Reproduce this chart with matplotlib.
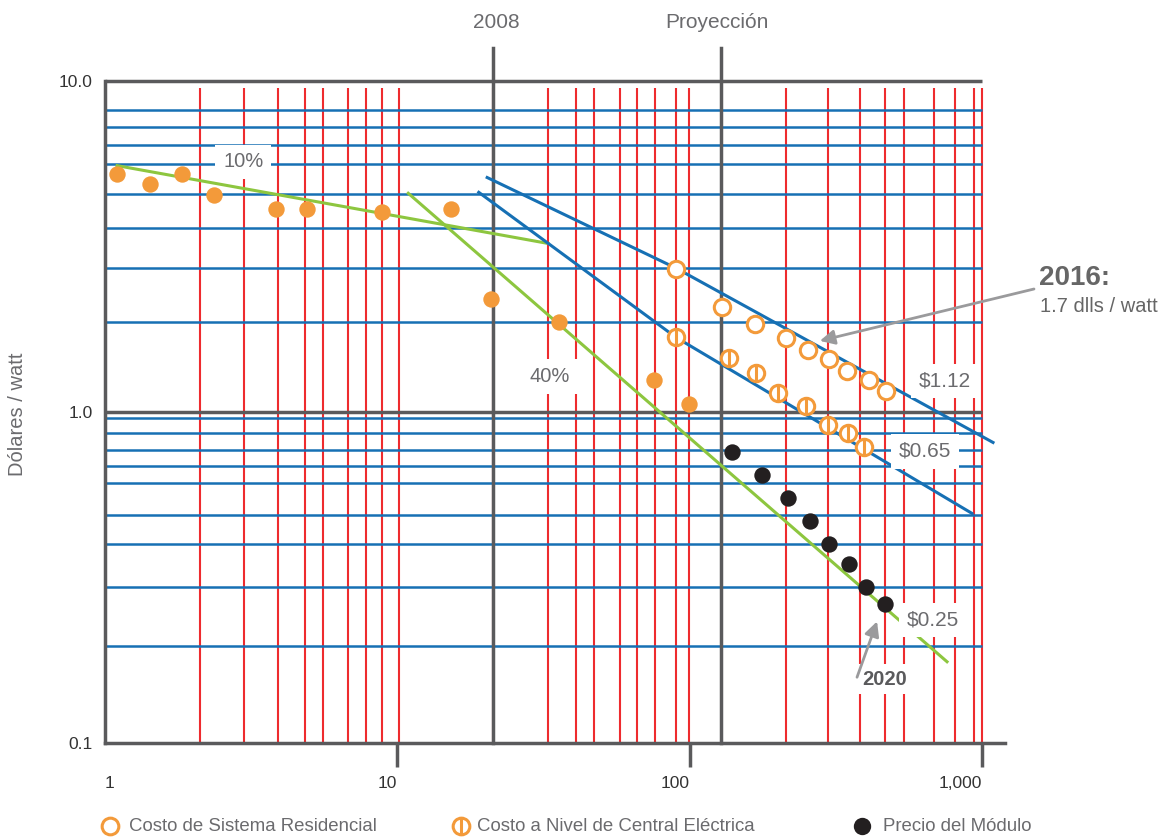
import matplotlib
matplotlib.use('Agg')
import matplotlib.pyplot as plt
from matplotlib.lines import Line2D
from matplotlib.path import Path
from matplotlib.ticker import NullLocator

plt.rcParams['font.family'] = ['Liberation Sans', 'DejaVu Sans']

# datos (x = volumen acumulado, y = dolares / watt)
hist_x = [1.10, 1.43, 1.83, 2.36, 3.85, 4.91, 8.87, 15.3, 20.9, 35.7, 75.5, 99.5]
hist_y = [5.25, 4.87, 5.22, 4.52, 4.10, 4.10, 4.02, 4.10, 2.19, 1.87, 1.25, 1.06]

resid_x = [89.9, 129, 167, 214, 254, 300, 346, 411, 470]
resid_y = [2.70, 2.08, 1.85, 1.67, 1.54, 1.45, 1.33, 1.25, 1.155]

central_x = [89.9, 136, 169, 201, 250, 298, 348, 395]
central_y = [1.68, 1.46, 1.31, 1.14, 1.04, 0.912, 0.862, 0.786]

modulo_x = [140, 177, 217, 258, 300, 351, 401, 466]
modulo_y = [0.759, 0.645, 0.548, 0.47, 0.399, 0.347, 0.297, 0.263]

# lineas de tendencia
verde1_x = [1.10, 32.8]
verde1_y = [5.55, 3.23]
verde2_x = [10.9, 760]
verde2_y = [4.58, 0.176]
azul1_x = [20.3, 89.9, 1092]
azul1_y = [5.11, 2.72, 0.809]
azul2_x = [19.0, 89.9, 925]
azul2_y = [4.61, 1.68, 0.494]

# rejilla tal como esta dibujada en el original
rejilla_y = [8.2, 7.25, 6.4, 5.62, 4.55, 3.6, 2.72, 1.87,
             0.958, 0.862, 0.77, 0.688, 0.61, 0.49, 0.40, 0.297, 0.196]
rejilla_x = [2.11, 2.99, 3.91, 4.83, 5.57, 6.78, 7.82, 8.87, 10.1,
             21.2, 32.8, 40.9, 47.0, 57.6, 66.0, 76.1, 89.9, 99.5,
             214, 298, 382, 465, 543, 687, 811, 938, 1000]

x_2008 = 21.2
x_proy = 128

ROJO = '#EE2B2E'
AZUL = '#1670B4'
VERDE = '#8DC63F'
NARANJA = '#F39A3A'
GRIS = '#5A5A5C'
TEXTO = '#6B6B6E'
NEGRO = '#231F20'

circulo_partido = Path.make_compound_path(
    Path.unit_circle(), Path([(0, -1), (0, 1)], [Path.MOVETO, Path.LINETO]))

fig = plt.figure(figsize=(11.69, 8.38), dpi=100)
ax = fig.add_axes([105 / 1169, 1 - 743 / 838, 900 / 1169, 662 / 838])
ax.set_xscale('log')
ax.set_yscale('log')
ax.set_xlim(1, 1200)
ax.set_ylim(0.1, 10)

# rejilla
ax.vlines(rejilla_x, 0.1, 9.55, color=ROJO, lw=1.5, zorder=1)
ax.hlines(rejilla_y, 1, 1000, color=AZUL, lw=1.8, zorder=2)
ax.hlines([1.0, 10.0], 1, 1000, color=GRIS, lw=2.5, zorder=3, clip_on=False)
for xv in [x_2008, x_proy]:
    ax.plot([xv, xv], [0.1, 12.6], color=GRIS, lw=2.5, zorder=3, clip_on=False)

# tendencias
ax.plot(verde1_x, verde1_y, color=VERDE, lw=2.2, zorder=4)
ax.plot(verde2_x, verde2_y, color=VERDE, lw=2.2, zorder=4)
ax.plot(azul1_x, azul1_y, color=AZUL, lw=2.2, zorder=4)
ax.plot(azul2_x, azul2_y, color=AZUL, lw=2.2, zorder=4)

# puntos
ax.plot(hist_x, hist_y, 'o', color=NARANJA, ms=11.8, mec='none', zorder=6)
ax.plot(resid_x, resid_y, 'o', mfc='white', mec=NARANJA, mew=2.2, ms=11.8, zorder=6)
ax.plot(central_x, central_y, ls='none', marker=circulo_partido, mfc='white',
        mec=NARANJA, mew=2.2, ms=11.8, zorder=6)
ax.plot(modulo_x, modulo_y, 'o', color=NEGRO, ms=11.8, mec='none', zorder=6)

# etiquetas dentro del grafico
caja = dict(fc='white', ec='none', pad=5.5)
ax.text(2.97, 5.70, '10%', fontsize=14.5, color=TEXTO, ha='center', va='center', bbox=caja, zorder=5)
ax.text(33.3, 1.28, '40%', fontsize=14.5, color=TEXTO, ha='center', va='center', bbox=caja, zorder=5)
ax.text(748, 1.24, '$1.12', fontsize=15, color=TEXTO, ha='center', va='center', bbox=caja, zorder=5)
ax.text(640, 0.76, '$0.65', fontsize=15, color=TEXTO, ha='center', va='center', bbox=caja, zorder=5)
ax.text(681, 0.235, '$0.25', fontsize=15, color=TEXTO, ha='center', va='center', bbox=caja, zorder=5)
ax.text(466, 0.156, '2020', fontsize=14.5, fontweight='bold', color=GRIS,
        ha='center', va='center', bbox=dict(fc='white', ec='none', pad=4), zorder=5)

flecha = dict(arrowstyle='-|>', color='#9A9A9C', lw=2, mutation_scale=22, shrinkA=0, shrinkB=0)
ax.annotate('', xy=(438, 0.233), xytext=(374, 0.158), arrowprops=flecha, zorder=7)
ax.annotate('', xy=(279, 1.64), xytext=(1034 / 1169, 1 - 289 / 838),
            textcoords='figure fraction', arrowprops=flecha, annotation_clip=False, zorder=7)
fig.text(1039 / 1169, 1 - 278 / 838, '2016:', fontsize=20, fontweight='bold', color='#666666', va='center')
fig.text(1040 / 1169, 1 - 307 / 838, '1.7 dlls / watt', fontsize=14.5, color='#666666', va='center')

fig.text(496 / 1169, 1 - 22 / 838, '2008', fontsize=15, color=TEXTO, ha='center', va='center')
fig.text(717 / 1169, 1 - 22 / 838, 'Proyección', fontsize=15, color=TEXTO, ha='center', va='center')
fig.text(18 / 1169, 1 - 414 / 838, 'Dólares / watt', rotation=90, fontsize=14.5,
         color=TEXTO, ha='center', va='center')

# ejes
for lado in ['top', 'right']:
    ax.spines[lado].set_visible(False)
for lado in ['left', 'bottom']:
    ax.spines[lado].set_color(GRIS)
    ax.spines[lado].set_linewidth(2.5)
    ax.spines[lado].set_zorder(3)

narrow = ['Liberation Sans Narrow', 'Liberation Sans']
ax.xaxis.set_minor_locator(NullLocator())
ax.yaxis.set_minor_locator(NullLocator())
ax.set_xticks([1, 10, 100, 1000], ['1', '10', '100', '1,000'])
ax.set_yticks([0.1, 1, 10], ['0.1', '1.0', '10.0'])
ax.tick_params(axis='x', length=17, width=2.5, color=GRIS, pad=7, labelsize=12.5, labelcolor='#333333')
ax.tick_params(axis='y', length=0, pad=9, labelsize=12.5, labelcolor='#333333')
ax.xaxis.get_major_ticks()[0].tick1line.set_visible(False)
for t in ax.get_xticklabels() + ax.get_yticklabels():
    t.set_family(narrow)
xlabels = ax.get_xticklabels()
xlabels[0].set_ha('left')
for t in xlabels[1:]:
    t.set_ha('right')

# leyenda
ly = 1 - 826 / 838
fig.add_artist(Line2D([110 / 1169], [ly], transform=fig.transFigure, marker='o', ls='none',
                      mfc='white', mec=NARANJA, mew=2.2, ms=12))
fig.add_artist(Line2D([461 / 1169], [ly], transform=fig.transFigure, marker=circulo_partido,
                      ls='none', mfc='white', mec=NARANJA, mew=2.2, ms=12))
fig.add_artist(Line2D([862 / 1169], [ly], transform=fig.transFigure, marker='o', ls='none',
                      color=NEGRO, mec='none', ms=12.5))
fig.text(129 / 1169, ly, 'Costo de Sistema Residencial', fontsize=13.4, color=TEXTO, va='center')
fig.text(477 / 1169, ly, 'Costo a Nivel de Central Eléctrica', fontsize=13.4, color=TEXTO, va='center')
fig.text(883 / 1169, ly, 'Precio del Módulo', fontsize=13.4, color=TEXTO, va='center')

fig.savefig('out.png', dpi=100)
